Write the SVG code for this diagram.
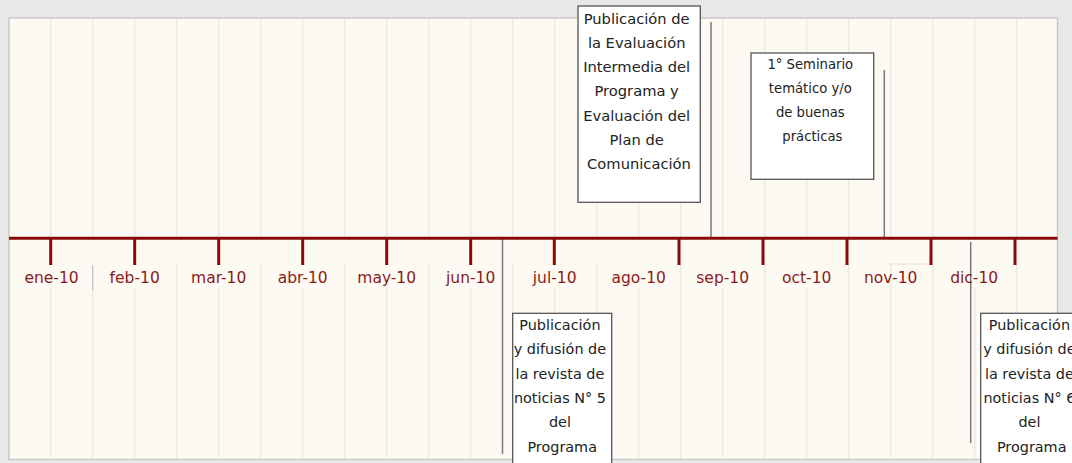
<svg xmlns="http://www.w3.org/2000/svg" width="1072" height="463" viewBox="0 0 1072 463">
<style>
.grid{stroke:#e9e6df;stroke-width:1.2}
.tick{stroke:#8a0a0a;stroke-width:3}
.mon{font-family:"DejaVu Sans",sans-serif;font-size:15.5px;fill:#8a1a1a;text-anchor:middle}
.box{fill:#ffffff;stroke:#555555;stroke-width:1.3}
.t{font-family:"DejaVu Sans",sans-serif;fill:#222222;text-anchor:middle}
.conn{stroke:#7a7a7a;stroke-width:1.5}
</style>
<rect x="0" y="0" width="1072" height="463" fill="#e8e8e8"/>
<rect x="9" y="18" width="1048.5" height="441.5" fill="#fdfaf3" stroke="#c9c9c9" stroke-width="1.5"/>
<g id="grid">
<path class="grid" d="M50.7 19V238M92.7 19V238M134.7 19V238M176.7 19V238M218.7 19V238M260.7 19V238M302.7 19V238M344.7 19V238M386.7 19V238M428.7 19V238M470.7 19V238M512.7 19V238M554.7 19V238M596.7 19V238M638.7 19V238M680.7 19V238M722.7 19V238M764.7 19V238M806.7 19V238M848.7 19V238M890.7 19V238M932.7 19V238M974.7 19V238M1016.7 19V238"/>
<path class="grid" d="M50.7 288V459M92.7 288V459M134.7 288V459M176.7 263V459M218.7 288V459M260.7 263V459M302.7 288V459M344.7 263V459M386.7 288V459M428.7 263V459M470.7 288V459M512.7 263V459M554.7 288V459M596.7 263V459M638.7 288V459M680.7 263V459M722.7 288V459M764.7 263V459M806.7 288V459M848.7 263V459M890.7 263V459M932.7 263V459M974.7 288V459M1016.7 263V459"/>
<path d="M889.5 264H930" stroke="#e2e0da" stroke-width="1.2"/>
<path d="M92.7 265V290" stroke="#bdbdbd" stroke-width="1.2"/>
</g>
<g id="connectors">
<line class="conn" x1="711" y1="22" x2="711" y2="238"/>
<line class="conn" x1="884.3" y1="70" x2="884.3" y2="238"/>
<line class="conn" x1="502.5" y1="238" x2="502.5" y2="454"/>
<line class="conn" x1="970.7" y1="242" x2="970.7" y2="443"/>
</g>
<g id="axis">
<line x1="9" y1="238.3" x2="1057.5" y2="238.3" stroke="#8a0a0a" stroke-width="3"/>
<path class="tick" d="M50.7 238V265M134.7 238V265M218.7 238V265M302.7 238V265M386.7 238V265M470.7 238V265M554.3 238V265M679 238V265M763 238V265M847 238V265M931 238V265M1015 238V265"/>
<text class="mon" x="51.5" y="283.3">ene-10</text>
<text class="mon" x="134.7" y="283.3">feb-10</text>
<text class="mon" x="218.7" y="283.3">mar-10</text>
<text class="mon" x="302.7" y="283.3">abr-10</text>
<text class="mon" x="386.7" y="283.3">may-10</text>
<text class="mon" x="470.7" y="283.3">jun-10</text>
<text class="mon" x="554.7" y="283.3">jul-10</text>
<text class="mon" x="638.7" y="283.3">ago-10</text>
<text class="mon" x="722.7" y="283.3">sep-10</text>
<text class="mon" x="806.7" y="283.3">oct-10</text>
<text class="mon" x="890.7" y="283.3">nov-10</text>
<text class="mon" x="974.2" y="283.3">dic-10</text>
</g>
<g id="node-evaluacion">
<rect class="box" x="578" y="6" width="122.3" height="196.3"/>
<text class="t" font-size="14.7">
<tspan x="639" y="23.5">Publicación de</tspan>
<tspan x="639" y="47.8">la Evaluación</tspan>
<tspan x="639" y="72.1">Intermedia del</tspan>
<tspan x="639" y="96.4">Programa y</tspan>
<tspan x="639" y="120.7">Evaluación del</tspan>
<tspan x="639" y="145">Plan de</tspan>
<tspan x="639" y="169.3">Comunicación</tspan>
</text>
</g>
<g id="node-seminario">
<rect class="box" x="751" y="53" width="122.7" height="126.3"/>
<text class="t" font-size="13.2">
<tspan x="812.4" y="68.5">1° Seminario</tspan>
<tspan x="812.4" y="92.7">temático y/o</tspan>
<tspan x="812.4" y="116.9">de buenas</tspan>
<tspan x="812.4" y="141.1">prácticas</tspan>
</text>
</g>
<g id="node-revista5">
<rect class="box" x="512.7" y="313.3" width="99" height="160"/>
<text class="t" font-size="14.4">
<tspan x="562.2" y="330">Publicación</tspan>
<tspan x="562.2" y="354.3">y difusión de</tspan>
<tspan x="562.2" y="378.6">la revista de</tspan>
<tspan x="562.2" y="402.9">noticias N° 5</tspan>
<tspan x="562.2" y="427.2">del</tspan>
<tspan x="562.2" y="451.5">Programa</tspan>
</text>
</g>
<g id="node-revista6">
<rect class="box" x="980.7" y="313.3" width="101" height="160"/>
<text class="t" font-size="14.4">
<tspan x="1031.7" y="330">Publicación</tspan>
<tspan x="1031.7" y="354.3">y difusión de</tspan>
<tspan x="1031.7" y="378.6">la revista de</tspan>
<tspan x="1031.7" y="402.9">noticias N° 6</tspan>
<tspan x="1031.7" y="427.2">del</tspan>
<tspan x="1031.7" y="451.5">Programa</tspan>
</text>
</g>
</svg>
